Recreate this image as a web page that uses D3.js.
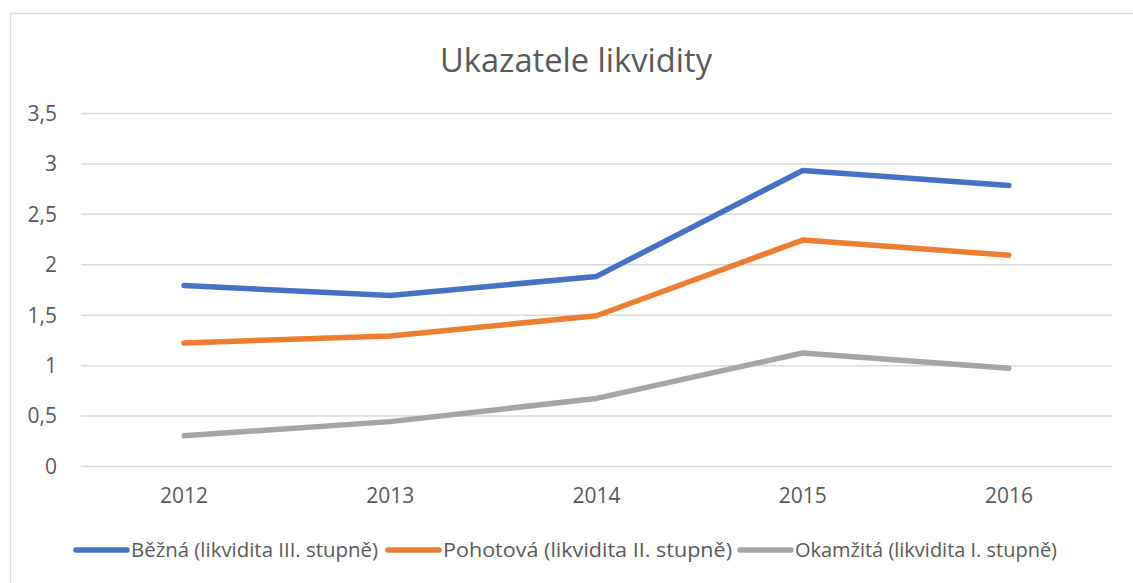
<!DOCTYPE html>
<html>
<head>
<meta charset="utf-8">
<style>
  body { margin: 0; background: #fff; }
  text { font-family: "Open Sans", Lato, sans-serif; }
</style>
</head>
<body>
<div id="chart"></div>
<script src="https://d3js.org/d3.v7.min.js"></script>
<script>
  const years = ['2012', '2013', '2014', '2015', '2016'];
  const bezna = [1.79, 1.69, 1.88, 2.93, 2.78];
  const pohotova = [1.22, 1.29, 1.49, 2.24, 2.09];
  const okamzita = [0.30, 0.44, 0.67, 1.12, 0.97];
  const seriesNames = [
    'Běžná (likvidita III. stupně)',
    'Pohotová (likvidita II. stupně)',
    'Okamžitá (likvidita I. stupně)',
  ];
  const yTicks = [0, 0.5, 1, 1.5, 2, 2.5, 3, 3.5];

  const colors = ['#4472C4', '#ED7D31', '#A5A5A5'];
  const series = [bezna, pohotova, okamzita].map((vals, i) => ({
    name: seriesNames[i],
    color: colors[i],
    values: vals.map((v, j) => ({ year: years[j], value: v })),
  }));

  const W = 1133, H = 583;
  const margin = { top: 113, right: 20, bottom: 117, left: 81 };
  const width = 1112 - margin.left;
  const height = 466 - margin.top;

  const svg = d3.select('#chart').append('svg')
    .attr('width', W).attr('height', H);

  // chart border
  svg.append('rect')
    .attr('x', 10.5).attr('y', 13.5)
    .attr('width', W).attr('height', H)
    .attr('fill', 'none')
    .attr('stroke', '#d9d9d9')
    .attr('stroke-width', 1.5);

  svg.append('text')
    .attr('x', 576).attr('y', 72)
    .attr('text-anchor', 'middle')
    .attr('font-size', 33)
    .attr('fill', '#595959')
    .attr('textLength', 272)
    .attr('lengthAdjust', 'spacingAndGlyphs')
    .text('Ukazatele likvidity');

  const g = svg.append('g')
    .attr('transform', `translate(${margin.left},${margin.top})`);

  const x = d3.scaleBand().domain(years).range([0, width]);
  const y = d3.scaleLinear().domain([0, 3.5]).range([height, 0]);

  const fmt = d => String(d).replace('.', ',');

  const yAxis = g.append('g')
    .call(d3.axisLeft(y).tickValues(yTicks).tickSize(-width).tickFormat(fmt));
  yAxis.select('.domain').remove();
  yAxis.selectAll('.tick line')
    .attr('stroke', '#d9d9d9').attr('stroke-width', 1.5);
  yAxis.selectAll('.tick text')
    .attr('x', -24).attr('dy', '0.35em')
    .attr('font-size', 21).attr('fill', '#595959');

  const xAxis = g.append('g')
    .attr('transform', `translate(0,${height})`)
    .call(d3.axisBottom(x).tickSize(0));
  xAxis.select('.domain').remove();
  xAxis.selectAll('.tick text')
    .attr('y', 22).attr('dy', '0.71em')
    .attr('font-size', 21).attr('fill', '#595959');

  const line = d3.line()
    .x(d => x(d.year) + x.bandwidth() / 2)
    .y(d => y(d.value));

  g.selectAll('.series')
    .data(series)
    .enter()
    .append('path')
    .attr('d', d => line(d.values))
    .attr('fill', 'none')
    .attr('stroke', d => d.color)
    .attr('stroke-width', 5.5)
    .attr('stroke-linecap', 'round')
    .attr('stroke-linejoin', 'round');

  // legend
  const legendX = [74, 386, 738];
  const legendLen = [247, 289, 262];
  const legend = svg.append('g').attr('transform', 'translate(0,550)');
  const items = legend.selectAll('g')
    .data(series)
    .enter()
    .append('g')
    .attr('transform', (d, i) => `translate(${legendX[i]},0)`);
  items.append('line')
    .attr('x1', 2).attr('x2', 53)
    .attr('stroke', d => d.color)
    .attr('stroke-width', 5.5)
    .attr('stroke-linecap', 'round');
  items.append('text')
    .attr('x', 57).attr('dy', '0.35em')
    .attr('font-size', 20).attr('fill', '#595959')
    .attr('textLength', (d, i) => legendLen[i])
    .attr('lengthAdjust', 'spacingAndGlyphs')
    .text(d => d.name);
</script>
</body>
</html>
